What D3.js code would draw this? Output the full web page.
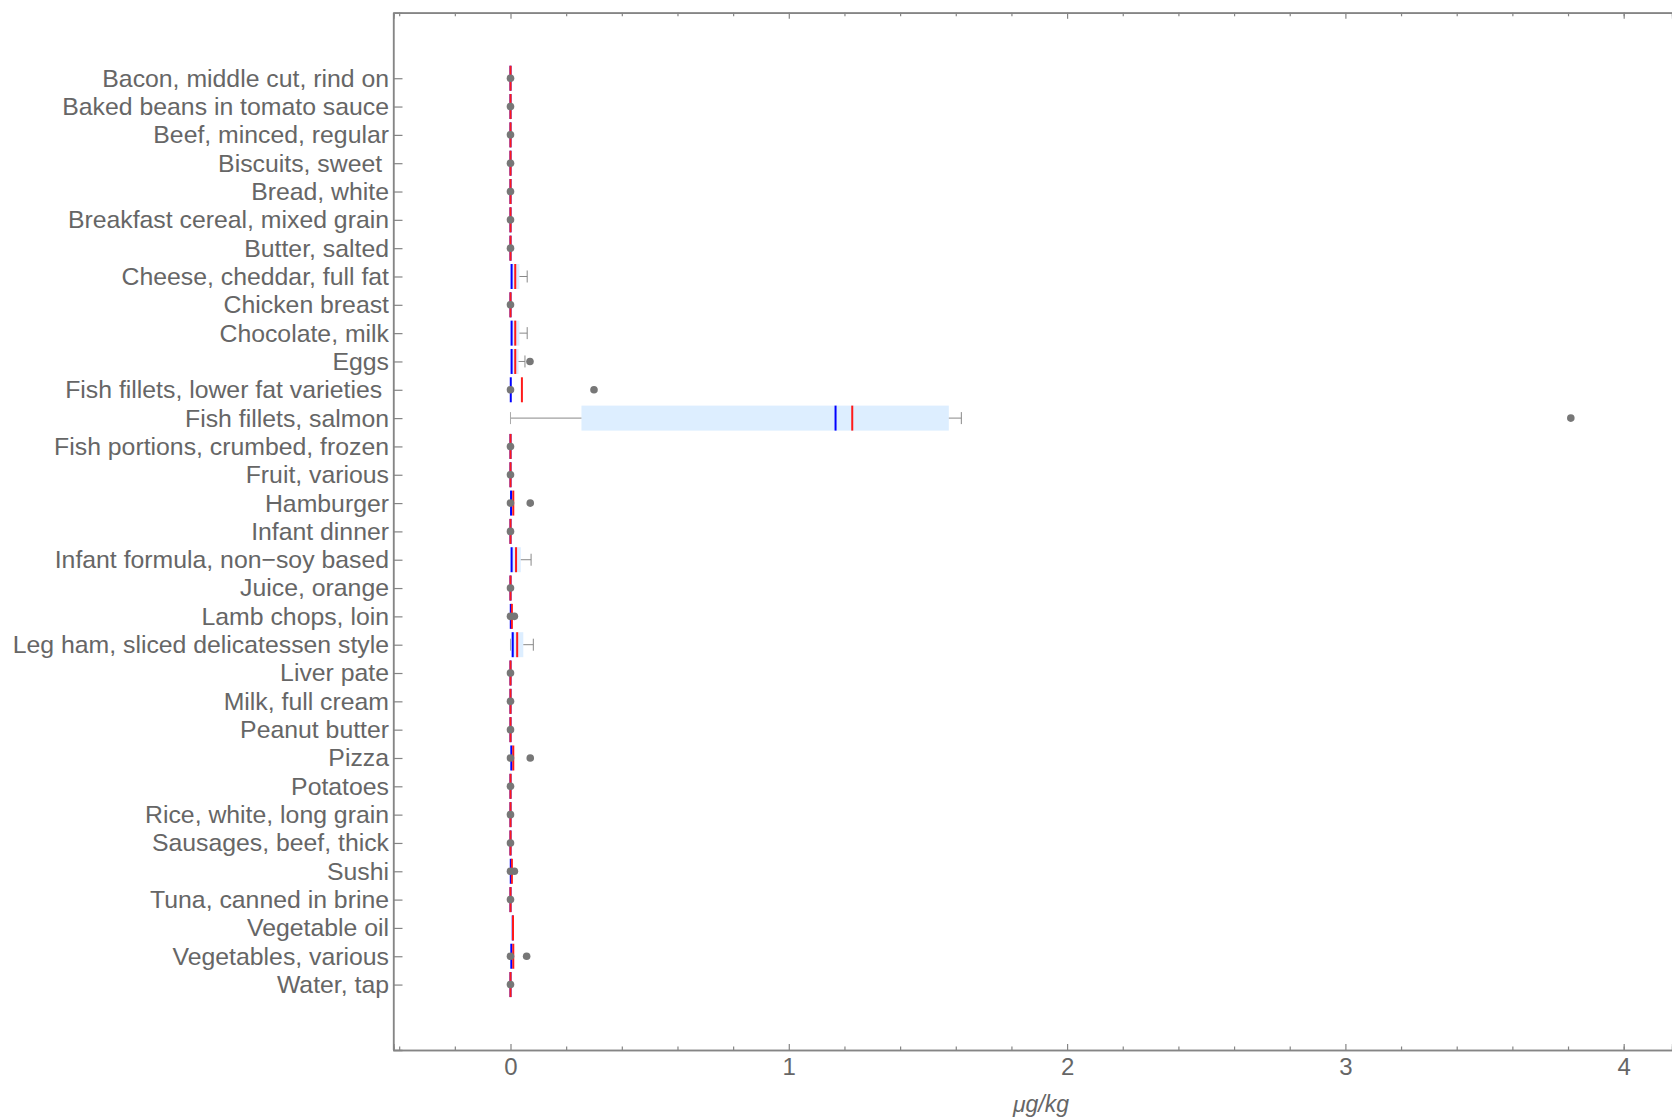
<!DOCTYPE html>
<html>
<head>
<meta charset="utf-8">
<script src="https://cdn.jsdelivr.net/npm/d3@7"></script>
<style>
  body { margin: 0; background: #fff; }
  text { font-family: "Liberation Sans", Arial, sans-serif; fill: #666; }
</style>
</head>
<body>
<div id="app"></div>
<script>
// food items, top to bottom
const categories = [
  "Bacon, middle cut, rind on", "Baked beans in tomato sauce", "Beef, minced, regular",
  "Biscuits, sweet ", "Bread, white", "Breakfast cereal, mixed grain", "Butter, salted",
  "Cheese, cheddar, full fat", "Chicken breast", "Chocolate, milk", "Eggs",
  "Fish fillets, lower fat varieties ", "Fish fillets, salmon", "Fish portions, crumbed, frozen",
  "Fruit, various", "Hamburger", "Infant dinner", "Infant formula, non\u2212soy based",
  "Juice, orange", "Lamb chops, loin", "Leg ham, sliced delicatessen style", "Liver pate",
  "Milk, full cream", "Peanut butter", "Pizza", "Potatoes", "Rice, white, long grain",
  "Sausages, beef, thick", "Sushi", "Tuna, canned in brine", "Vegetable oil",
  "Vegetables, various", "Water, tap"
];

// box statistics (µg/kg)
const whiskerLo = [0,0,0,0,0,0,0, 0,0,0,0, 0,0,0, 0,0,0,0, 0,0,0,0, 0,0,0,0,0, 0,0,0,0.008, 0,0];
const q1 =        [0,0,0,0,0,0,0, 0,0,0,0, 0,0.255,0, 0,0,0,0, 0,0,0.002,0, 0,0,0,0,0, 0,0,0,0.008, 0,0];
const median =    [0,0,0,0,0,0,0, 0.004,0,0.004,0.004, 0.001,1.168,0, 0,0.002,0,0.004, 0,0.001,0.008,0, 0,0,0.003,0,0, 0,0.001,0,0.008, 0.003,0];
const q3 =        [0,0,0,0,0,0,0, 0.032,0,0.032,0.029, 0,1.575,0, 0,0.006,0,0.037, 0,0,0.046,0, 0,0,0.006,0,0, 0,0,0,0.008, 0.006,0];
const whiskerHi = [0,0,0,0,0,0,0, 0.060,0,0.060,0.052, 0,1.62,0, 0,0.006,0,0.074, 0,0,0.082,0, 0,0,0.006,0,0, 0,0,0,0.008, 0.006,0];
const mean =      [0,0,0,0,0,0,0, 0.017,0,0.017,0.017, 0.041,1.228,0, 0,0.010,0,0.020, 0,0.005,0.024,0, 0,0,0.010,0,0, 0,0.005,0,0.009, 0.010,0];
const points = [
  [0],[0],[0],[0],[0],[0],[0],
  [],[0],[],[0.070],
  [0,0.30],[3.81],[0],
  [0],[0,0.071],[0],[],
  [0],[0,0.014],[],[0],
  [0],[0],[0,0.071],[0],[0],
  [0],[0,0.014],[0],[],
  [0,0.058],[0]
];

const xMajor = [0, 1, 2, 3, 4];
const xMinor = [-0.4, -0.2, 0.2, 0.4, 0.6, 0.8, 1.2, 1.4, 1.6, 1.8, 2.2, 2.4, 2.6, 2.8, 3.2, 3.4, 3.6, 3.8, 4.0];

const rows = categories.map((c, i) => ({
  name: c, lo: whiskerLo[i], q1: q1[i], med: median[i], q3: q3[i], hi: whiskerHi[i],
  mean: mean[i], pts: points[i]
}));

const w = 1672, h = 1117;
const plotLeft = 393.5, plotTop = 12.8, plotBottom = 1050;

const x = d3.scaleLinear().domain([-0.4204, 4.1736]).range([plotLeft, w]);
const y = d3.scalePoint().domain(categories).range([plotTop, plotBottom]).padding(2.31);
const boxH = 25;

const svg = d3.select('#app').append('svg').attr('width', w).attr('height', h);

// frame
const frame = '#858585';
svg.append('line').attr('x1', plotLeft).attr('x2', plotLeft).attr('y1', plotTop).attr('y2', plotBottom)
  .attr('stroke', frame).attr('stroke-width', 1.3);
svg.append('line').attr('x1', plotLeft).attr('x2', w).attr('y1', plotTop).attr('y2', plotTop)
  .attr('stroke', frame).attr('stroke-width', 1.3);

// bottom axis
const xAxis = svg.append('g').attr('transform', 'translate(0,' + plotBottom + ')')
  .call(d3.axisBottom(x).tickValues(xMajor).tickSize(-6).tickPadding(8).tickFormat(d3.format('d')));
svg.append('g').attr('transform', 'translate(0,' + plotBottom + ')')
  .call(d3.axisBottom(x).tickValues(xMinor).tickSize(-3.5).tickFormat(''));
// top mirror ticks
svg.append('g').attr('transform', 'translate(0,' + plotTop + ')')
  .call(d3.axisTop(x).tickValues(xMajor).tickSize(-6).tickFormat(''));
svg.append('g').attr('transform', 'translate(0,' + plotTop + ')')
  .call(d3.axisTop(x).tickValues(xMinor).tickSize(-3.5).tickFormat(''));

// left axis
svg.append('g').attr('transform', 'translate(' + plotLeft + ',0)')
  .call(d3.axisLeft(y).tickSize(-9).tickPadding(4.5));

svg.selectAll('.domain').attr('stroke', frame).attr('stroke-width', 1.3);
svg.selectAll('.tick line').attr('stroke', frame).attr('stroke-width', 1.2);
svg.selectAll('.tick text').style('font-size', '24.8px').style('white-space', 'pre')
  .attr('fill', '#666');
xAxis.selectAll('.tick text').style('font-size', '24px');

// axis label
svg.append('text').attr('x', 1041).attr('y', 1112).attr('text-anchor', 'middle')
  .style('font-size', '23px').style('font-style', 'italic').text('\u03bcg/kg');

// boxes
const g = svg.selectAll('.row').data(rows).join('g').attr('class', 'row')
  .attr('transform', d => 'translate(0,' + y(d.name) + ')');

g.append('rect')
  .attr('x', d => x(d.q1)).attr('width', d => x(d.q3) - x(d.q1))
  .attr('y', -boxH / 2).attr('height', boxH)
  .attr('fill', '#ddeeff');

// whiskers
g.filter(d => d.hi > d.q3).append('line')
  .attr('x1', d => x(d.q3)).attr('x2', d => x(d.hi)).attr('y1', 0).attr('y2', 0)
  .attr('stroke', '#888').attr('stroke-width', 1);
g.filter(d => d.hi > d.q3).append('line')
  .attr('x1', d => x(d.hi)).attr('x2', d => x(d.hi)).attr('y1', -6).attr('y2', 6)
  .attr('stroke', '#888').attr('stroke-width', 1);
g.filter(d => d.q1 > d.lo).append('line')
  .attr('x1', d => x(d.lo)).attr('x2', d => x(d.q1)).attr('y1', 0).attr('y2', 0)
  .attr('stroke', '#888').attr('stroke-width', 1);
g.filter(d => d.q1 > d.lo).append('line')
  .attr('x1', d => x(d.lo)).attr('x2', d => x(d.lo)).attr('y1', -6).attr('y2', 6)
  .attr('stroke', '#aaa').attr('stroke-width', 1);

// median (blue) and mean (red)
g.append('line')
  .attr('x1', d => x(d.med)).attr('x2', d => x(d.med)).attr('y1', -boxH / 2).attr('y2', boxH / 2)
  .attr('stroke', '#0000ff').attr('stroke-width', 2);
g.append('line')
  .attr('x1', d => x(d.mean)).attr('x2', d => x(d.mean)).attr('y1', -boxH / 2).attr('y2', boxH / 2)
  .attr('stroke', '#ff1a1a').attr('stroke-width', 2);

// points
g.selectAll('circle').data(d => d.pts).join('circle')
  .attr('cx', d => x(d)).attr('cy', 0).attr('r', 3.8)
  .attr('fill', '#777');
</script>
</body>
</html>
